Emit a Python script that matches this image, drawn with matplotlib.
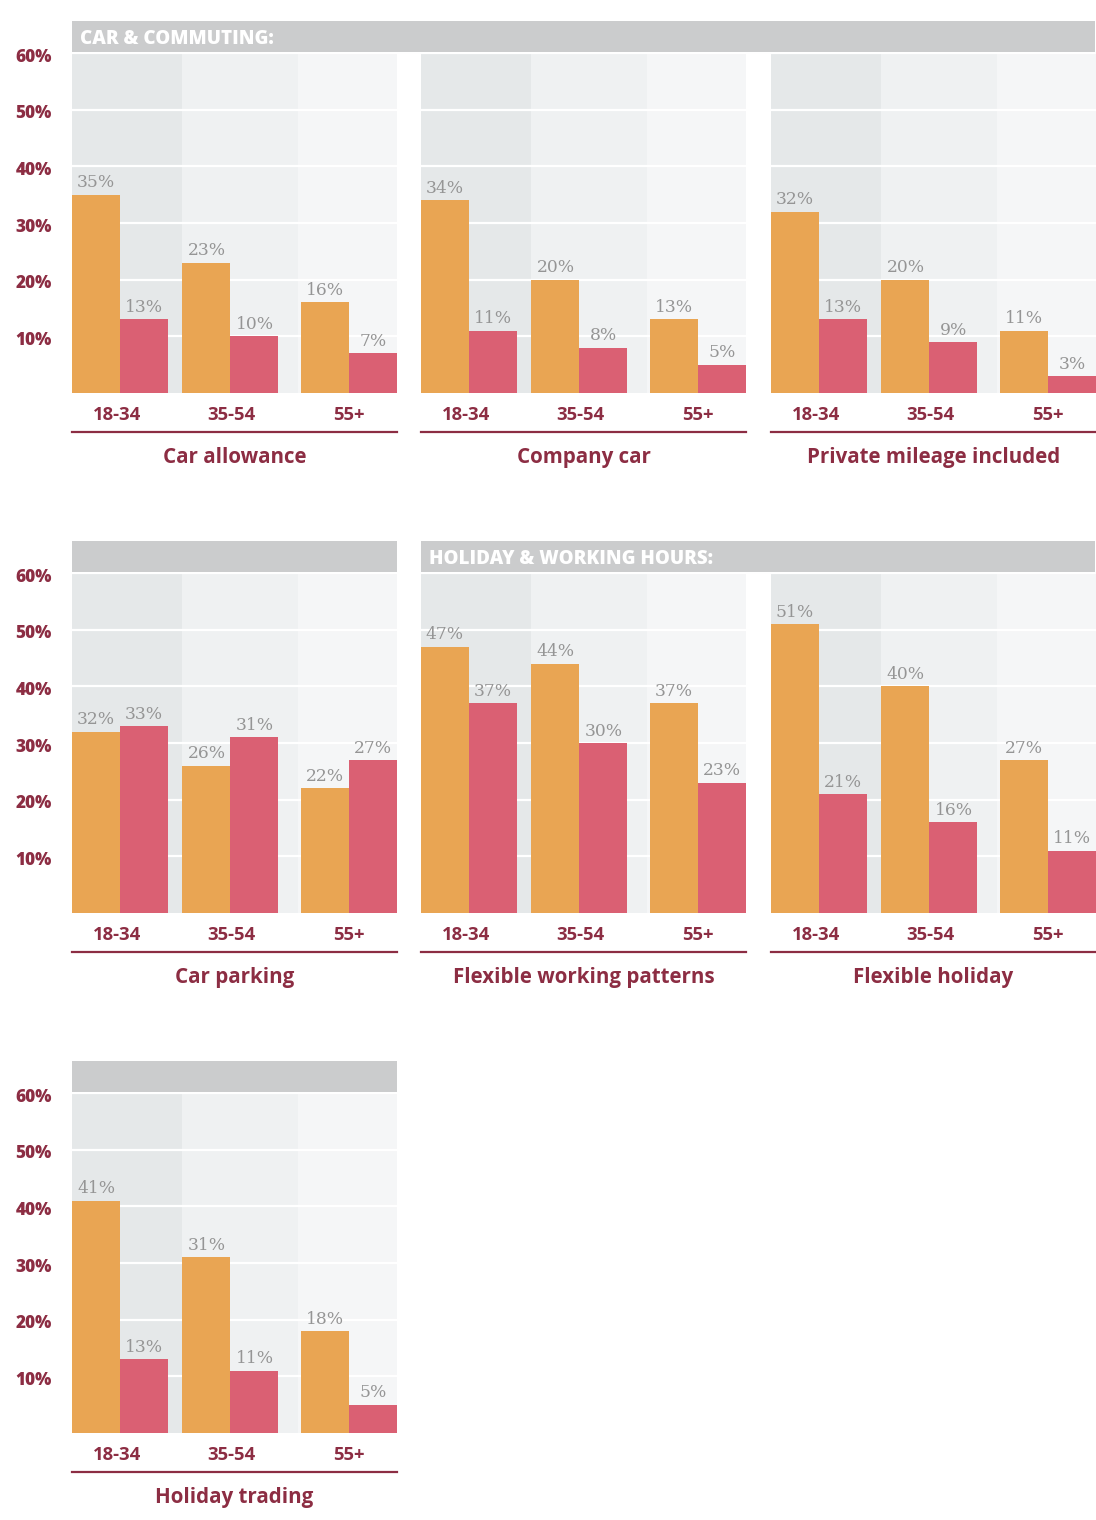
import matplotlib
matplotlib.use("Agg")
import matplotlib.pyplot as plt
from matplotlib.patches import Rectangle
from matplotlib.transforms import blended_transform_factory

# ---------------- data ----------------
age_groups = ["18-34", "35-54", "55+"]
titles = ["Car allowance", "Company car", "Private mileage included",
          "Car parking", "Flexible working patterns", "Flexible holiday",
          "Holiday trading"]
orange_vals = [
    [35, 23, 16],
    [34, 20, 13],
    [32, 20, 11],
    [32, 26, 22],
    [47, 44, 37],
    [51, 40, 27],
    [41, 31, 18],
]
pink_vals = [
    [13, 10, 7],
    [11, 8, 5],
    [13, 9, 3],
    [33, 31, 27],
    [37, 30, 23],
    [21, 16, 11],
    [13, 11, 5],
]
y_ticks = [10, 20, 30, 40, 50, 60]
section_titles = ["CAR & COMMUTING:", "HOLIDAY & WORKING HOURS:"]

# ---------------- style ----------------
W, H = 1096, 1520
ORANGE = "#E9A553"
PINK = "#DA6073"
MAROON = "#8C2D43"
HEADER = "#CBCCCD"
BANDS = ["#E5E8E9", "#EFF1F2", "#F5F6F7"]
VALGREY = "#959595"
SANS = ["Open Sans", "DejaVu Sans"]
SERIF = ["DejaVu Serif"]

fig = plt.figure(figsize=(W / 100, H / 100), dpi=100)
fig.patch.set_facecolor("white")


def fx(px):
    return px / W


def fy(px):
    return 1 - px / H


col_left = [72, 421, 771]
panel_w = 325
row_off = 520
plot_top0 = 53
plot_bot0 = 393
header_top0 = 21
header_bot0 = 52

bw = 48 / 114.5  # bar width in data units
group_x = [0, 0.965, 2]
label_shift = [-0.03, 0.01, 0.0]

positions = [(0, 0), (0, 1), (0, 2), (1, 0), (1, 1), (1, 2), (2, 0)]


def header(x0, x1, row, text=None):
    top = header_top0 + row * row_off
    bot = header_bot0 + row * row_off
    fig.add_artist(Rectangle((fx(x0), fy(bot)), fx(x1) - fx(x0), fy(top) - fy(bot),
                             transform=fig.transFigure, facecolor=HEADER,
                             edgecolor="none"))
    if text:
        fig.text(fx(x0 + 8), fy(44 + row * row_off), text, color="white",
                 fontsize=13.5, fontweight="heavy", family=SANS,
                 ha="left", va="baseline")


header(72, 1095, 0, section_titles[0])
header(72, 397, 1)
header(421, 1095, 1, section_titles[1])
header(72, 397, 2)

for k, (row, col) in enumerate(positions):
    left = col_left[col]
    top = plot_top0 + row * row_off
    bot = plot_bot0 + row * row_off
    ax = fig.add_axes([fx(left), fy(bot), panel_w / W, (bot - top) / H])
    ax.set_xlim(-bw, 2 + bw)
    ax.set_ylim(0, 60)
    for s in ax.spines.values():
        s.set_visible(False)
    ax.set_xticks([])
    ax.set_yticks([])
    ax.set_facecolor("white")

    # background bands
    edges = [-bw, group_x[1] - bw, group_x[2] - bw - 0.025, 2 + bw]
    for i in range(3):
        ax.axvspan(edges[i], edges[i + 1], color=BANDS[i], zorder=0, lw=0)
    for t in y_ticks:
        ax.axhline(t, color="white", lw=1.6, zorder=1)

    ax.bar([x - bw / 2 for x in group_x], orange_vals[k], width=bw,
           color=ORANGE, zorder=2, lw=0)
    ax.bar([x + bw / 2 for x in group_x], pink_vals[k], width=bw,
           color=PINK, zorder=2, lw=0)
    for x, o, p in zip(group_x, orange_vals[k], pink_vals[k]):
        ax.annotate(f"{o}%", (x - bw / 2, o), xytext=(0, 2.5),
                    textcoords="offset points", ha="center", va="bottom",
                    color=VALGREY, fontsize=12.3, family=SERIF, zorder=3)
        ax.annotate(f"{p}%", (x + bw / 2, p), xytext=(0, 2.5),
                    textcoords="offset points", ha="center", va="bottom",
                    color=VALGREY, fontsize=12.3, family=SERIF, zorder=3)

    tr = blended_transform_factory(ax.transData, fig.transFigure)
    for x, sh, lab in zip(group_x, label_shift, age_groups):
        ax.text(x + sh, fy(420 + row * row_off), lab, transform=tr,
                ha="center", va="baseline", color=MAROON, fontsize=13.3,
                fontweight="bold", family=SANS)
    # maroon underline
    ly = fy(432 + row * row_off)
    fig.add_artist(plt.Line2D([fx(left), fx(left + panel_w)], [ly, ly],
                              transform=fig.transFigure, color=MAROON, lw=1.6))
    fig.text(fx(left + panel_w / 2), fy(463 + row * row_off), titles[k],
             ha="center", va="baseline", color=MAROON, fontsize=14.8,
             fontweight="bold", family=SANS)

    if col == 0:
        for t in y_ticks:
            ypx = bot - t * (bot - top) / 60 + 8.5
            fig.text(fx(52), fy(ypx), f"{t}%", ha="right",
                     va="baseline", color=MAROON, fontsize=12.3,
                     fontweight="heavy", family=SANS)

fig.savefig("out.png", dpi=100, facecolor="white")
